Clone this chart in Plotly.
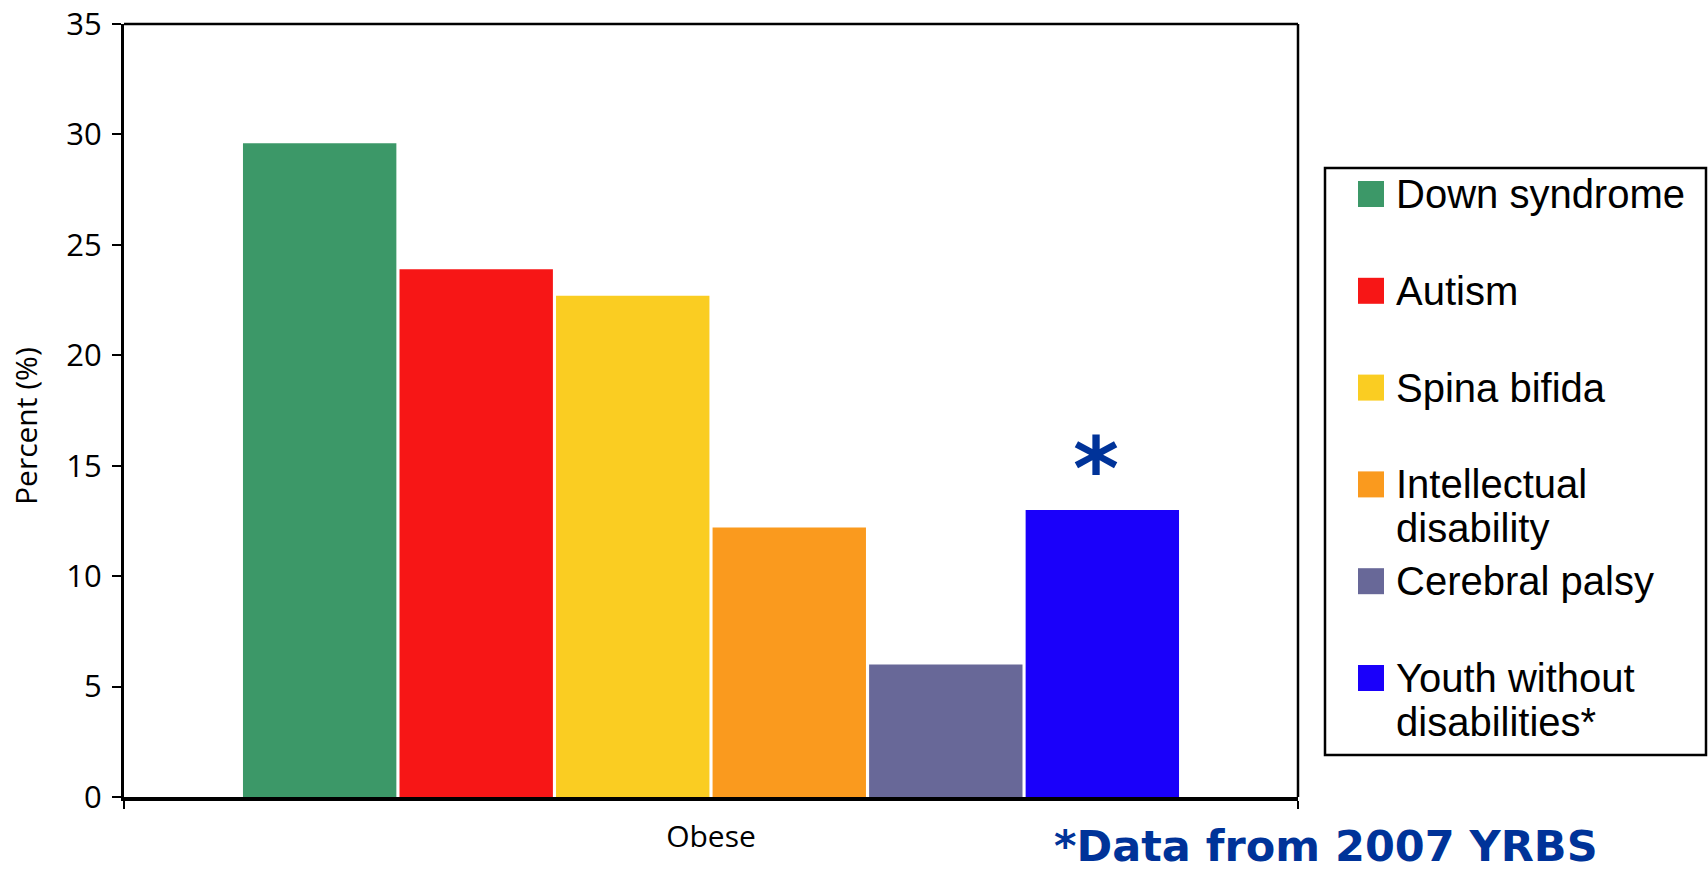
import plotly.graph_objects as go

# ---- data -------------------------------------------------------------
category = ["Obese"]
groups = [
    "Down syndrome",
    "Autism",
    "Spina bifida",
    "Intellectual disability",
    "Cerebral palsy",
    "Youth without disabilities*",
]
legend_lines = [
    ["Down syndrome"],
    ["Autism"],
    ["Spina bifida"],
    ["Intellectual", "disability"],
    ["Cerebral palsy"],
    ["Youth without", "disabilities*"],
]
obese_pct = [29.6, 23.9, 22.7, 12.2, 6.0, 13.0]
bar_marks = ["", "", "", "", "", "*"]
bar_colors = ["#3C9868", "#F71616", "#FACD22", "#FA9A1E", "#686898", "#1A00FA"]
y_ticks = [0, 5, 10, 15, 20, 25, 30, 35]
y_title = "Percent (%)"
footnote = "*Data from 2007 YRBS"

# ---- page geometry (pixels) ------------------------------------------
W, H = 1708, 872
PL, PT, PR, PB = 124, 24, 1298, 797
BARGAP, GROUPGAP = 0.2, 0.02


def px_x(px):
    return (px - PL) / (PR - PL)


def px_y(py):
    return (PB - py) / (PB - PT)


NOTE_BLUE = "#003399"

fig = go.Figure()
for name, val, col in zip(groups, obese_pct, bar_colors):
    fig.add_trace(
        go.Bar(
            x=category,
            y=[val],
            name=name,
            marker=dict(color=col, line=dict(width=0)),
            showlegend=False,
        )
    )

shapes = []
annotations = []

# note markers placed on top of the flagged bars (grouped-bar offsets)
slot = (1 - BARGAP) / len(groups)
for i, (val, mark) in enumerate(zip(obese_pct, bar_marks)):
    if not mark:
        continue
    xc = -(1 - BARGAP) / 2 + (i + 0.5) * slot
    annotations.append(
        dict(x=xc, y=val, xref="x", yref="y", text=mark, showarrow=False,
             xanchor="center", yanchor="bottom", xshift=-6, yshift=-12,
             font=dict(family="DejaVu Sans", size=88, color=NOTE_BLUE, weight="bold"))
    )

# ---- hand-built legend box --------------------------------------------
shapes.append(
    dict(type="rect", xref="paper", yref="paper",
         x0=px_x(1325), x1=px_x(1706), y0=px_y(755), y1=px_y(168),
         line=dict(color="black", width=2.5), fillcolor="rgba(0,0,0,0)")
)
row0, row_step, line_step, sw = 194, 96.8, 44, 26
for i, (lines, col) in enumerate(zip(legend_lines, bar_colors)):
    cy = row0 + i * row_step
    shapes.append(
        dict(type="rect", xref="paper", yref="paper",
             x0=px_x(1358), x1=px_x(1358 + sw),
             y0=px_y(cy + sw / 2), y1=px_y(cy - sw / 2),
             line=dict(width=0), fillcolor=col)
    )
    for j, txt in enumerate(lines):
        annotations.append(
            dict(xref="paper", yref="paper", x=px_x(1394), y=px_y(cy + j * line_step),
                 xanchor="left", yanchor="middle", text=txt, showarrow=False,
                 font=dict(family="Liberation Sans", size=40, color="black"))
        )

# top and right frame lines of the plotting area
shapes.append(dict(type="line", xref="paper", yref="paper", x0=0, x1=1, y0=1, y1=1,
                   line=dict(color="black", width=2.5)))
shapes.append(dict(type="line", xref="paper", yref="paper", x0=1, x1=1, y0=0, y1=1,
                   line=dict(color="black", width=2.5)))

# vertical axis title
annotations.append(
    dict(xref="paper", yref="paper", x=px_x(25), y=px_y(426), textangle=-90,
         xanchor="center", yanchor="middle", text=y_title, showarrow=False,
         font=dict(family="Open Sans", size=30, color="black"))
)

# source footnote
annotations.append(
    dict(xref="paper", yref="paper", x=px_x(1052), y=px_y(846),
         xanchor="left", yanchor="middle", text=footnote, showarrow=False,
         font=dict(family="DejaVu Sans", size=43, color=NOTE_BLUE, weight="bold"))
)

fig.update_layout(
    width=W,
    height=H,
    margin=dict(l=PL, r=W - PR, t=PT, b=H - PB, pad=0, autoexpand=False),
    paper_bgcolor="white",
    plot_bgcolor="white",
    barmode="group",
    bargap=BARGAP,
    bargroupgap=GROUPGAP,
    font=dict(family="Open Sans", color="black"),
    shapes=shapes,
    annotations=annotations,
    showlegend=False,
    xaxis=dict(
        type="category",
        range=[-0.5, 0.5],
        automargin=False,
        showline=True, linecolor="black", linewidth=4,
        ticks="outside", tickson="boundaries", ticklen=8, tickwidth=2, tickcolor="black",
        tickfont=dict(family="Open Sans", size=30, color="black"),
        ticklabelstandoff=10,
        showgrid=False, zeroline=False,
    ),
    yaxis=dict(
        range=[0, 35],
        tickvals=y_ticks,
        automargin=False,
        showline=True, linecolor="black", linewidth=3,
        ticks="outside", ticklen=9, tickwidth=2, tickcolor="black",
        tickfont=dict(family="Open Sans", size=31, color="black"),
        ticklabelstandoff=4,
        showgrid=False, zeroline=False,
    ),
)

fig.write_html("out.html")
